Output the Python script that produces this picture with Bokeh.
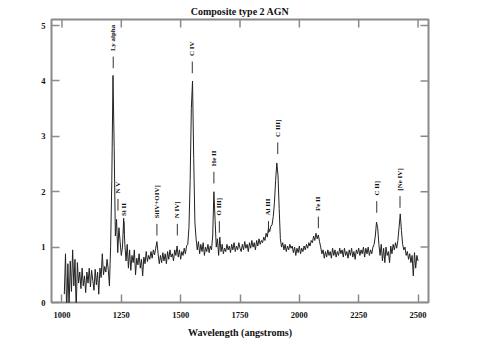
import numpy as np
from bokeh.plotting import figure
from bokeh.models import Range1d, FixedTicker, ColumnDataSource, Title
from bokeh.core.properties import value
from bokeh.embed import file_html
from bokeh.resources import INLINE

# Spectrum flux, 5 Angstrom steps starting at 1010 A
flux = [
    0.15, 0.88, -0.2, 0.70, -0.1, 0.75, 0.20, 0.95, 0.30, 0.78,   # 1010-1055
    -0.15, 0.72, 0.35, 0.55, 0.25, 0.62, 0.30, 0.48, 0.18, 0.55,  # 1060-1105
    0.35, 0.62, 0.28, 0.58, 0.40, 0.22, 0.60, 0.32, 0.55, 0.15,   # 1110-1155
    0.62, 0.45, 0.88, 0.50, 0.65, 0.55, 0.78, 0.60, 0.30, 1.00,   # 1160-1205
    2.20, 4.10, 2.80, 1.20, 1.50, 0.90, 1.35, 1.10, 0.85, 1.00,   # 1210-1255
    1.52, 1.05, 0.75, 1.05, 0.62, 0.95, 0.58, 0.85, 0.72, 0.95,   # 1260-1305
    0.50, 0.80, 0.68, 0.88, 0.62, 0.78, 0.48, 0.82, 0.70, 0.92,   # 1310-1355
    0.74, 0.85, 0.78, 0.92, 0.80, 0.95, 0.86, 0.98, 1.10, 0.88,   # 1360-1405
    0.70, 0.85, 0.72, 0.90, 0.75, 0.88, 0.70, 0.92, 0.78, 0.95,   # 1410-1455
    0.82, 0.88, 0.75, 0.95, 0.85, 1.02, 0.82, 0.95, 0.78, 0.92,   # 1460-1505
    0.85, 0.98, 0.88, 1.02, 1.05, 1.35, 2.20, 3.50, 4.00, 2.60,   # 1510-1555
    1.45, 1.15, 0.95, 1.10, 0.88, 1.05, 0.92, 1.08, 0.85, 1.00,   # 1560-1605
    0.92, 1.05, 0.90, 1.02, 0.95, 1.20, 2.00, 1.50, 1.00, 1.15,   # 1610-1655
    0.85, 1.18, 0.92, 1.05, 0.88, 0.98, 0.92, 1.05, 0.95, 1.02,   # 1660-1705
    0.90, 1.05, 0.95, 1.08, 0.92, 1.02, 0.95, 1.08, 0.98, 0.92,   # 1710-1755
    1.05, 0.95, 1.10, 0.98, 1.05, 0.92, 1.08, 0.98, 1.12, 1.00,   # 1760-1805
    1.08, 0.95, 1.12, 1.02, 1.15, 1.05, 1.12, 1.08, 1.18, 1.12,   # 1810-1855
    1.25, 1.18, 1.35, 1.28, 1.38, 1.40, 1.55, 1.80, 2.20, 2.52,   # 1860-1905
    2.30, 1.70, 1.15, 1.00, 1.08, 0.95, 1.05, 0.92, 1.02, 0.95,   # 1910-1955
    1.05, 0.98, 1.02, 0.90, 1.00, 0.85, 0.98, 0.90, 1.02, 0.88,   # 1960-2005
    0.98, 0.92, 1.02, 0.95, 1.05, 0.98, 1.08, 1.02, 1.12, 1.08,   # 2010-2055
    1.20, 1.12, 1.25, 1.15, 1.22, 1.10, 1.00, 0.88, 0.95, 0.80,   # 2060-2105
    0.92, 0.82, 0.95, 0.85, 0.92, 0.80, 0.98, 0.85, 0.95, 0.82,   # 2110-2155
    0.92, 0.85, 0.98, 0.88, 0.95, 0.82, 0.98, 0.85, 0.92, 0.80,   # 2160-2205
    0.95, 0.85, 0.98, 0.82, 0.92, 0.78, 0.95, 0.88, 0.98, 0.85,   # 2210-2255
    0.95, 0.88, 1.00, 0.82, 0.98, 0.88, 1.00, 0.85, 0.95, 0.88,   # 2260-2305
    1.00, 1.05, 1.20, 1.45, 1.35, 1.05, 0.85, 1.05, 0.75, 0.98,   # 2310-2355
    0.72, 1.00, 0.85, 0.92, 0.72, 1.02, 0.88, 1.05, 0.95, 1.08,   # 2360-2405
    0.98, 1.12, 1.35, 1.60, 1.30, 1.05, 0.95, 1.00, 0.85, 0.92,   # 2410-2455
    0.78, 0.88, 0.72, 0.85, 0.48, 0.90, 0.62, 0.85, 0.75,         # 2460-2500
]
wave_start = 1010
wave_step = 5
wavelength = [wave_start + wave_step * i for i in range(len(flux))]

# Emission line identifications
line_names = ["Ly alpha", "N V", "Si II", "SiIV+OIV]", "N IV]", "C IV", "He II",
              "O III]", "Al III", "C III]", "Fe II", "C II]", "[Ne IV]"]
line_waves = [1216, 1236, 1262, 1400, 1486, 1549, 1640, 1663, 1870, 1909, 2080, 2326, 2424]
label_levels = [4.54, 1.97, 1.56, 1.52, 1.52, 4.45, 2.46, 1.57, 1.57, 2.99, 1.65, 1.93, 2.02]

x_ticks = [1000, 1250, 1500, 1750, 2000, 2250, 2500]
y_ticks = [0, 1, 2, 3, 4, 5]
x_lo, x_hi = 956, 2544
y_lo, y_hi = 0, 5.11

FRAME = "#8a8a8a"
FONT = "Liberation Serif"

p = figure(width=467, height=342, output_backend="svg", toolbar_location=None,
           x_range=Range1d(x_lo, x_hi), y_range=Range1d(y_lo, y_hi),
           min_border_left=51, min_border_right=39, min_border_top=0, min_border_bottom=40)
p.title = Title(text="Composite type 2 AGN", align="center", text_font=FONT,
                text_font_size="10px", text_font_style="bold", text_color="#111111",
                standoff=6, offset=0)
p.grid.visible = False
p.background_fill_color = "white"
p.border_fill_color = "white"
p.outline_line_color = FRAME
p.outline_line_width = 2

for ax in [p.xaxis[0], p.yaxis[0]]:
    ax.axis_line_color = None
    ax.major_tick_in = 8
    ax.major_tick_out = 0
    ax.minor_tick_line_color = None
    ax.major_tick_line_color = FRAME
    ax.major_tick_line_width = 1.5
    ax.major_label_text_font = FONT
    ax.major_label_text_font_size = "8.5px"
    ax.major_label_text_font_style = "bold"
    ax.major_label_text_color = "#111111"
p.xaxis[0].ticker = FixedTicker(ticks=x_ticks)
p.yaxis[0].ticker = FixedTicker(ticks=y_ticks)
p.xaxis[0].major_label_standoff = 9
p.yaxis[0].major_label_standoff = 6
p.xaxis[0].axis_label = "Wavelength (angstroms)"
p.xaxis[0].axis_label_text_font = FONT
p.xaxis[0].axis_label_text_font_size = "10px"
p.xaxis[0].axis_label_text_font_style = "bold"
p.xaxis[0].axis_label_text_color = "#111111"
p.xaxis[0].axis_label_standoff = 6

# mirrored inward ticks on the top and right edges (dash markers clipped by the frame)
p.scatter(x=x_ticks, y=[y_hi] * len(x_ticks), marker="dash", angle=np.pi / 2,
          size=16, line_color=FRAME, line_width=1.5)
p.scatter(x=[x_hi] * len(y_ticks), y=y_ticks, marker="dash",
          size=16, line_color=FRAME, line_width=1.5)

p.line(wavelength, flux, line_color="#222222", line_width=1)

tick_top = [v - 0.1 for v in label_levels]
tick_bot = [v - 0.31 for v in label_levels]
p.segment(x0=line_waves, y0=tick_bot, x1=line_waves, y1=tick_top,
          line_color="#333333", line_width=1)
src = ColumnDataSource(dict(x=line_waves, y=label_levels, t=line_names))
p.text(x="x", y="y", text="t", source=src, angle=np.pi / 2,
       text_align="left", text_baseline="middle", text_font_size="7px",
       text_font_style="bold", text_color="#111111",
       text_font=value(FONT))

open("out.html", "w").write(file_html(p, INLINE))
